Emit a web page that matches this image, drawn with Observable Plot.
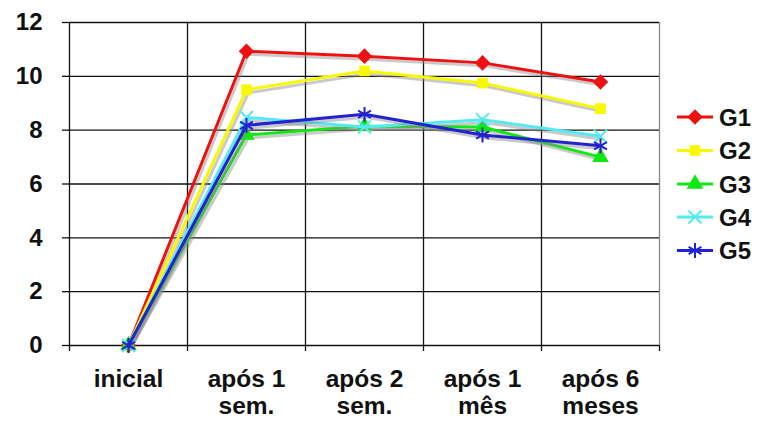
<!DOCTYPE html>
<html>
<head>
<meta charset="utf-8">
<script src="https://cdn.jsdelivr.net/npm/d3@7"></script>
<script src="https://cdn.jsdelivr.net/npm/@observablehq/plot@0.6"></script>
<style>
  html, body { margin: 0; padding: 0; background: #fff; }
  #chart { position: relative; width: 757px; height: 424px; }
  #legend { position: absolute; left: 0; top: 0; }
</style>
</head>
<body>
<div id="chart"></div>
<script>
// Time points of the measurements
const categories = ["inicial", "após 1\nsem.", "após 2\nsem.", "após 1\nmês", "após 6\nmeses"];

// Mean values per group
const G1 = [0, 10.93, 10.75, 10.5, 9.79];
const G2 = [0, 9.5, 10.2, 9.75, 8.8];
const G3 = [0, 7.82, 8.15, 8.12, 7.0];
const G4 = [0, 8.47, 8.12, 8.39, 7.77];
const G5 = [0, 8.18, 8.59, 7.82, 7.42];

const groupNames = ["G1", "G2", "G3", "G4", "G5"];
const groupValues = [G1, G2, G3, G4, G5];
const yTicks = [0, 2, 4, 6, 8, 10, 12];

const colors = ["#ee1111", "#f8f800", "#11e811", "#55eaf0", "#2222d0"];

// A rhombus as wide as it is tall
const rhombus = {
  draw(context, size) {
    const h = Math.sqrt(size / 2);
    context.moveTo(0, -h);
    context.lineTo(h, 0);
    context.lineTo(0, h);
    context.lineTo(-h, 0);
    context.closePath();
  }
};
const symbols = [rhombus, d3.symbolSquare, d3.symbolTriangle, d3.symbolTimes, d3.symbolAsterisk];
const filledSym = [true, true, true, false, false];
const symbolR = [6.2, 6, 6.2, 6, 7];

// Long table: one row per group and time point; x is the band centre
const rows = groupNames.flatMap((g, gi) =>
  groupValues[gi].map((v, i) => ({group: g, gi, x: i + 0.5, y: v}))
);

const font = "'Liberation Sans', Arial, sans-serif";

const seriesMarks = groupNames.flatMap((g, gi) => {
  const data = rows.filter(r => r.group === g);
  return [
    // soft drop shadow under each line
    Plot.line(data, {x: "x", y: "y", stroke: "#8a8a8a", strokeWidth: 3, strokeOpacity: 0.45, dx: 2, dy: 3}),
    Plot.line(data, {x: "x", y: "y", stroke: colors[gi], strokeWidth: 3}),
    Plot.dot(data, filledSym[gi]
      ? {x: "x", y: "y", symbol: symbols[gi], r: symbolR[gi], fill: colors[gi], stroke: "none"}
      : {x: "x", y: "y", symbol: symbols[gi], r: symbolR[gi], stroke: colors[gi], strokeWidth: 2, fill: "none"})
  ];
});

const plot = Plot.plot({
  width: 757,
  height: 424,
  marginLeft: 69,
  marginRight: 98,
  marginTop: 22,
  marginBottom: 79,
  style: {fontFamily: font, fontWeight: "bold", fontSize: "24px", color: "#111", background: "#fff"},
  x: {type: "linear", domain: [0, 5], label: null},
  y: {domain: [0, 12], label: null},
  marks: [
    // horizontal gridlines
    Plot.ruleY(yTicks, {stroke: "#111", strokeWidth: 1.3}),
    // vertical gridlines at band boundaries
    Plot.ruleX([0, 1, 2, 3, 4], {stroke: "#111", strokeWidth: 1.3}),
    Plot.ruleX([5], {stroke: "#888", strokeWidth: 1.3}),
    // outward tick marks on the category axis
    Plot.axisX([0, 1, 2, 3, 4, 5], {tickSize: 6, tickFormat: () => "", stroke: "#111", strokeWidth: 1.3, label: null}),
    // category labels centred in each band
    Plot.axisX(categories.map((c, i) => i + 0.5), {
      tickSize: 0, tickPadding: 22, lineHeight: 1.12,
      tickFormat: (d) => categories[Math.round(d - 0.5)],
      fontSize: 24.5, fontWeight: "bold", fill: "#111", label: null
    }),
    Plot.axisY(yTicks, {
      tickSize: 7, tickPadding: 20, stroke: "#111", strokeWidth: 1.3,
      fontSize: 24, fontWeight: "bold", fill: "#111", label: null
    }),
    ...seriesMarks
  ]
});

document.getElementById("chart").appendChild(plot);

// Legend on the right: line segment + marker + group name
const legend = d3.select("#chart").append("svg")
  .attr("id", "legend")
  .attr("width", 757).attr("height", 424);

const legendY = [117, 150.5, 184, 217, 250.5];
groupNames.forEach((g, gi) => {
  const y = legendY[gi];
  const row = legend.append("g");
  row.append("line")
    .attr("x1", 677).attr("x2", 713).attr("y1", y).attr("y2", y)
    .attr("stroke", colors[gi]).attr("stroke-width", 3);
  const r = symbolR[gi];
  row.append("path")
    .attr("transform", `translate(695,${y})`)
    .attr("d", d3.symbol(symbols[gi], Math.PI * r * r)())
    .attr("fill", filledSym[gi] ? colors[gi] : "none")
    .attr("stroke", filledSym[gi] ? "none" : colors[gi])
    .attr("stroke-width", 2);
  row.append("text")
    .attr("x", 719).attr("y", y).attr("dy", "0.36em")
    .attr("font-family", font).attr("font-weight", "bold").attr("font-size", 24)
    .attr("fill", "#111")
    .text(g);
});
</script>
</body>
</html>
